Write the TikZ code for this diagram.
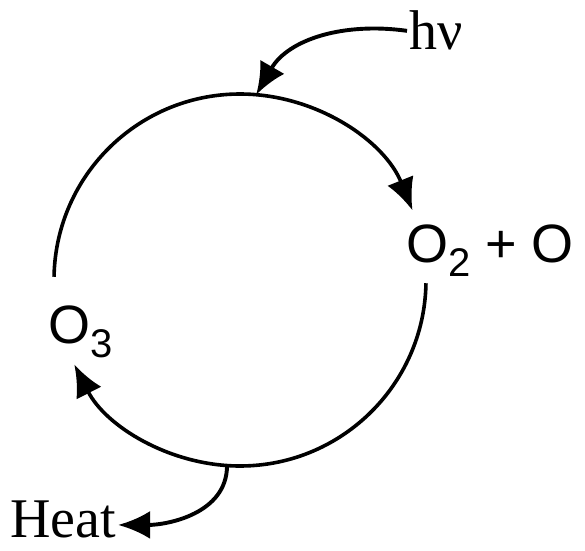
\documentclass[tikz,border=0pt]{standalone}
\usepackage{fontspec}
\setmainfont{Liberation Serif}
\newfontfamily\osans{Liberation Sans}
\usetikzlibrary{arrows.meta}

\begin{document}
\begin{tikzpicture}[
  x=1pt, y=1pt,
  serif/.style={font=\fontsize{56}{60}\selectfont, inner sep=2pt},
  chem/.style={font=\osans\fontsize{54}{60}\selectfont, inner sep=2pt},
  ring/.style={line width=3.6pt, black},
  tip/.style={-{Latex[length=32pt, width=28pt]}},
  flow/.style={tip, line width=3.9pt, black},
]
  \useasboundingbox (0,0) rectangle (585,550);

  % The cycle itself, drawn as two arcs of one circle.
  \node[circle, minimum size=372pt, inner sep=0pt, outer sep=0pt] (cyc) at (240,270) {};
  \node[chem, anchor=base west] (o2) at (404,288)
    {O\raisebox{-0.26em}{\fontsize{40}{44}\selectfont 2} + O};
  \node[chem, anchor=base west] (o3) at (46,207)
    {O\raisebox{-0.26em}{\fontsize{40}{44}\selectfont 3}};
  \draw[ring, tip] (cyc.179)
    arc[start angle=179, end angle=22, radius=186pt];
  \draw[ring, tip] (cyc.-1)
    arc[start angle=-1, end angle=-153, radius=186pt];

  % Light in at the top, heat out at the bottom.
  \node[serif, anchor=base west] (hv) at (407,500) {hν};
  \node[serif, anchor=base west] (heat) at (8,13) {Heat};
  \draw[flow] (hv.west) to[out=172, in=60] (cyc.85);
  \draw[flow] (cyc.266) to[out=-90, in=0] ([yshift=-6pt]heat.east);
\end{tikzpicture}
\end{document}
